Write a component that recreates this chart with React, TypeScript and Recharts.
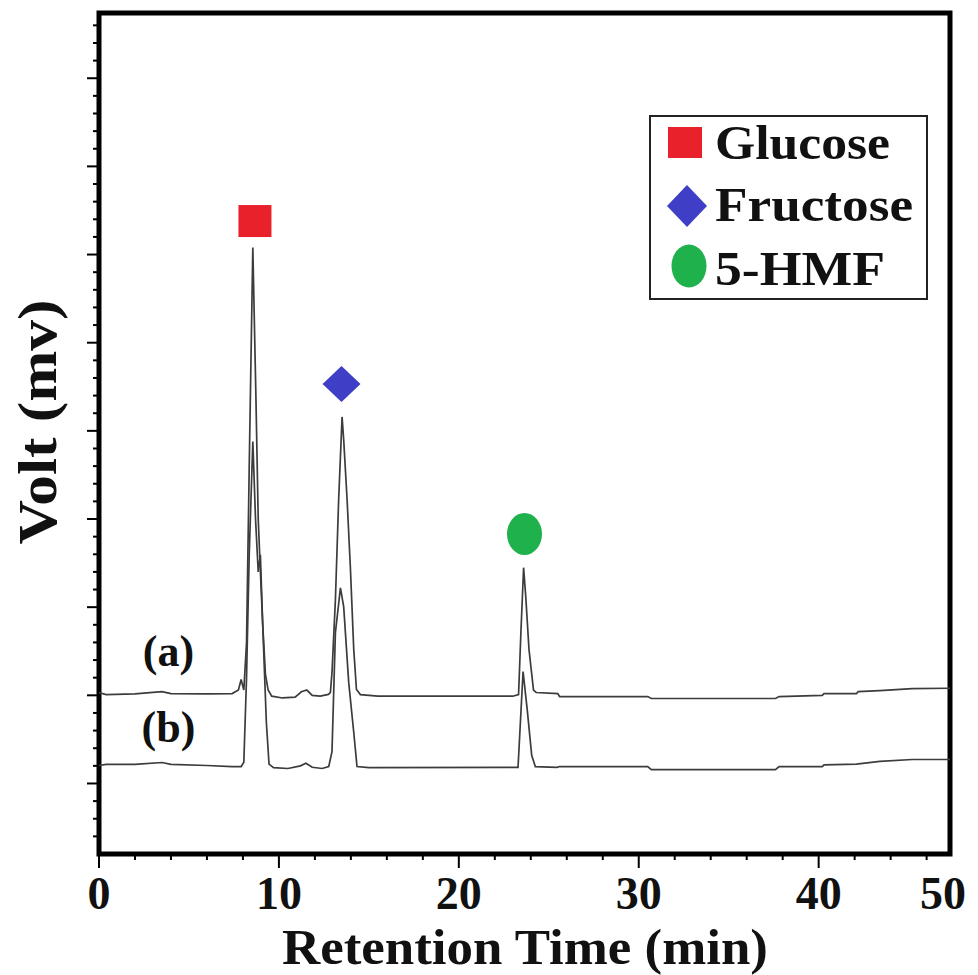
import { ComposedChart, Line, Scatter, XAxis, YAxis, ReferenceArea, Legend, Label } from "recharts";

const FONT = '"Liberation Serif", "Times New Roman", serif';

// trace (a): retention time (min) / signal (arbitrary mv units)
const timeA = [0, 0.4, 2, 3.5, 4, 6, 7.4, 7.75, 7.9, 8.05, 8.2, 8.35, 8.55, 8.72, 8.85, 8.95, 9.1, 9.25, 9.4, 9.6, 10.2, 10.9, 11.25, 11.55, 11.85, 12.3, 12.75, 12.86, 12.95, 13.14, 13.32, 13.51, 13.6, 13.79, 13.97, 14.16, 14.31, 14.53, 15.5, 20, 23, 23.32, 23.45, 23.6, 23.72, 23.9, 24.15, 24.3, 25.5, 25.6, 30.5, 30.7, 37.6, 37.8, 40.2, 40.3, 42.1, 42.2, 43.4, 45.2, 47.3];
const voltA = [5.16, 5.04, 5.08, 5.21, 5.1, 5.08, 5.1, 5.3, 5.9, 5.3, 8, 18, 30.4, 22, 15, 12.5, 9, 6.2, 5.3, 4.95, 4.85, 4.9, 5.2, 5.3, 5.0, 4.95, 5.05, 5.16, 6.29, 10.42, 16.09, 20.79, 19.5, 16.09, 12.29, 7.59, 5.33, 5.04, 4.95, 4.95, 4.95, 5.04, 8.56, 12.24, 10.6, 7.6, 5.3, 5.16, 5.1, 4.93, 4.93, 4.82, 4.82, 4.93, 5.0, 5.1, 5.1, 5.21, 5.27, 5.38, 5.4];

// trace (b)
const timeB = [0, 0.4, 2, 3.5, 4, 6, 7.4, 7.9, 8.05, 8.2, 8.35, 8.55, 8.7, 8.85, 8.97, 9.1, 9.3, 9.45, 9.7, 10.5, 11.2, 11.5, 11.85, 12.4, 12.77, 12.95, 13.14, 13.42, 13.6, 13.88, 14.16, 14.34, 15, 23, 23.29, 23.57, 23.8, 24.05, 24.25, 25.45, 25.6, 30.5, 30.7, 37.6, 37.8, 40.2, 40.3, 42.1, 43.4, 45.2, 47.3];
const voltB = [1.02, 1.08, 1.08, 1.19, 1.08, 1.02, 0.96, 0.96, 1.2, 6, 13, 19.4, 15, 12, 12.97, 9, 3.5, 1.1, 0.9, 0.85, 1.0, 1.15, 0.92, 0.85, 0.96, 1.81, 8.56, 11.1, 10.03, 5.72, 2.89, 0.96, 0.9, 0.91, 0.91, 6.35, 4.2, 1.6, 0.96, 0.91, 0.96, 0.96, 0.79, 0.79, 0.96, 0.96, 1.05, 1.1, 1.25, 1.36, 1.36];

const traceA = timeA.map((t, i) => ({ t, v: voltA[i] }));
const traceB = timeB.map((t, i) => ({ t, v: voltB[i] }));

// peak markers
const markerNames = ["Glucose", "Fructose", "5-HMF"];
const markerShapes = ["square", "diamond", "circle"];
const markerColors = ["#e8212b", "#3e3fc6", "#1fb14c"];
const markerTimes = [8.64, 13.48, 23.65];
const markerVolts = [31.9, 22.66, 14.15];
const markers = markerTimes.map((t, i) => ({ t, v: markerVolts[i], shape: markerShapes[i], color: markerColors[i] }));

// trace labels
const traceLabels = ["(a)", "(b)"];
const traceLabelTimes = [3.86, 3.86];
const traceLabelVolts = [7.46, 3.15];
const labelPoints = traceLabels.map((text, i) => ({ t: traceLabelTimes[i], v: traceLabelVolts[i], text }));

const xMax = 47.3;
const xMajorTicks = [0, 10, 20, 30, 40, 47.3];
const xMajorLabels = ["0", "10", "20", "30", "40", "50"];
const xMinorTicks = [2, 4, 6, 8, 12, 14, 16, 18, 22, 24, 26, 28, 32, 34, 36, 38, 42, 44, 46];
const yTicks = Array.from({ length: 47 }, (_, i) => i - 3);

function MarkerShape(props: any) {
  const { cx, cy, payload } = props;
  const c = payload.color;
  if (payload.shape === "square") return <rect x={cx - 16} y={cy - 16} width={33} height={32} fill={c} />;
  if (payload.shape === "diamond")
    return <polygon points={`${cx - 19},${cy} ${cx},${cy - 18} ${cx + 19},${cy} ${cx},${cy + 18}`} fill={c} />;
  return <ellipse cx={cx} cy={cy} rx={17.5} ry={21} fill={c} />;
}

function TraceLabel(props: any) {
  const { cx, cy, payload } = props;
  return (
    <text x={cx} y={cy} textAnchor="middle" dominantBaseline="central" fontFamily={FONT} fontWeight="bold" fontSize={44} fill="#111">
      {payload.text}
    </text>
  );
}

function XTick(props: any) {
  const { x, y, payload } = props;
  const idx = xMajorTicks.indexOf(payload.value);
  if (idx < 0) return <line x1={x} x2={x} y1={y} y2={y + 6} stroke="#000" strokeWidth={2} />;
  const last = payload.value === xMax;
  return (
    <g>
      {!last && <line x1={x} x2={x} y1={y} y2={y + 14} stroke="#000" strokeWidth={2} />}
      <text x={last ? x - 7 : x} y={y + 55} textAnchor="middle" fontFamily={FONT} fontWeight="bold" fontSize={46} fill="#111">
        {xMajorLabels[idx]}
      </text>
    </g>
  );
}

function YTick(props: any) {
  const { x, y, payload } = props;
  const len = payload.value % 5 === 0 ? 12 : 6;
  return <line x1={x - len} x2={x} y1={y} y2={y} stroke="#000" strokeWidth={2} />;
}

function LegendBox() {
  return (
    <svg width={279} height={185} style={{ overflow: "visible", display: "block" }}>
      <rect x={1} y={1} width={277} height={183} fill="#fff" stroke="#222" strokeWidth={2} />
      <rect x={19} y={12} width={34} height={31} fill={markerColors[0]} />
      <polygon points="18,91 38,70 58,91 38,112" fill={markerColors[1]} />
      <ellipse cx={40} cy={151} rx={17.5} ry={21.5} fill={markerColors[2]} />
      {markerNames.map((name, i) => (
        <text key={name} x={66} y={[44, 106, 170][i]} fontFamily={FONT} fontWeight="bold" fontSize={48} fill="#111"
          textLength={[175, 198, 170][i]} lengthAdjust="spacingAndGlyphs">
          {name}
        </text>
      ))}
    </svg>
  );
}

export default function App() {
  return (
    <ComposedChart width={970} height={967} margin={{ top: 5, right: 28, bottom: 0, left: 0 }}>
      <XAxis
        type="number"
        dataKey="t"
        domain={[0, xMax]}
        ticks={[...xMajorTicks, ...xMinorTicks]}
        interval={0}
        axisLine={false}
        tickLine={false}
        tickSize={0}
        tickMargin={0}
        height={121}
        tick={<XTick />}
        allowDataOverflow
      >
        <Label
          content={() => (
            <text x={517} y={956} textAnchor="middle" fontFamily={FONT} fontWeight="bold" fontSize={50} fill="#111"
              textLength={486} lengthAdjust="spacingAndGlyphs">
              Retention Time (min)
            </text>
          )}
        />
      </XAxis>
      <YAxis
        type="number"
        dataKey="v"
        domain={[-4, 43.7]}
        ticks={yTicks}
        interval={0}
        axisLine={false}
        tickLine={false}
        tickSize={0}
        tickMargin={0}
        width={91}
        tick={<YTick />}
        allowDataOverflow
      >
        <Label
          content={() => (
            <text x={30} y={414} transform="rotate(-90 30 414)" textAnchor="middle" dominantBaseline="central" fontFamily={FONT} fontWeight="bold" fontSize={54} fill="#111"
              textLength={245} lengthAdjust="spacingAndGlyphs">
              Volt (mv)
            </text>
          )}
        />
      </YAxis>
      <Legend
        layout="vertical"
        align="center"
        verticalAlign="middle"
        wrapperStyle={{ left: 641, top: 107, width: 279, height: 185 }}
        content={() => <LegendBox />}
      />
      <Line data={traceA} dataKey="v" type="linear" stroke="#3c3c3c" strokeWidth={1.7} dot={false} isAnimationActive={false} legendType="none" />
      <Line data={traceB} dataKey="v" type="linear" stroke="#3c3c3c" strokeWidth={1.7} dot={false} isAnimationActive={false} legendType="none" />
      <Scatter data={markers} dataKey="v" shape={<MarkerShape />} isAnimationActive={false} legendType="none" />
      <Scatter data={labelPoints} dataKey="v" shape={<TraceLabel />} isAnimationActive={false} legendType="none" />
      <ReferenceArea x1={0} x2={xMax} y1={-4} y2={43.7} fill="none" stroke="#000" strokeWidth={5} ifOverflow="visible" />
    </ComposedChart>
  );
}
